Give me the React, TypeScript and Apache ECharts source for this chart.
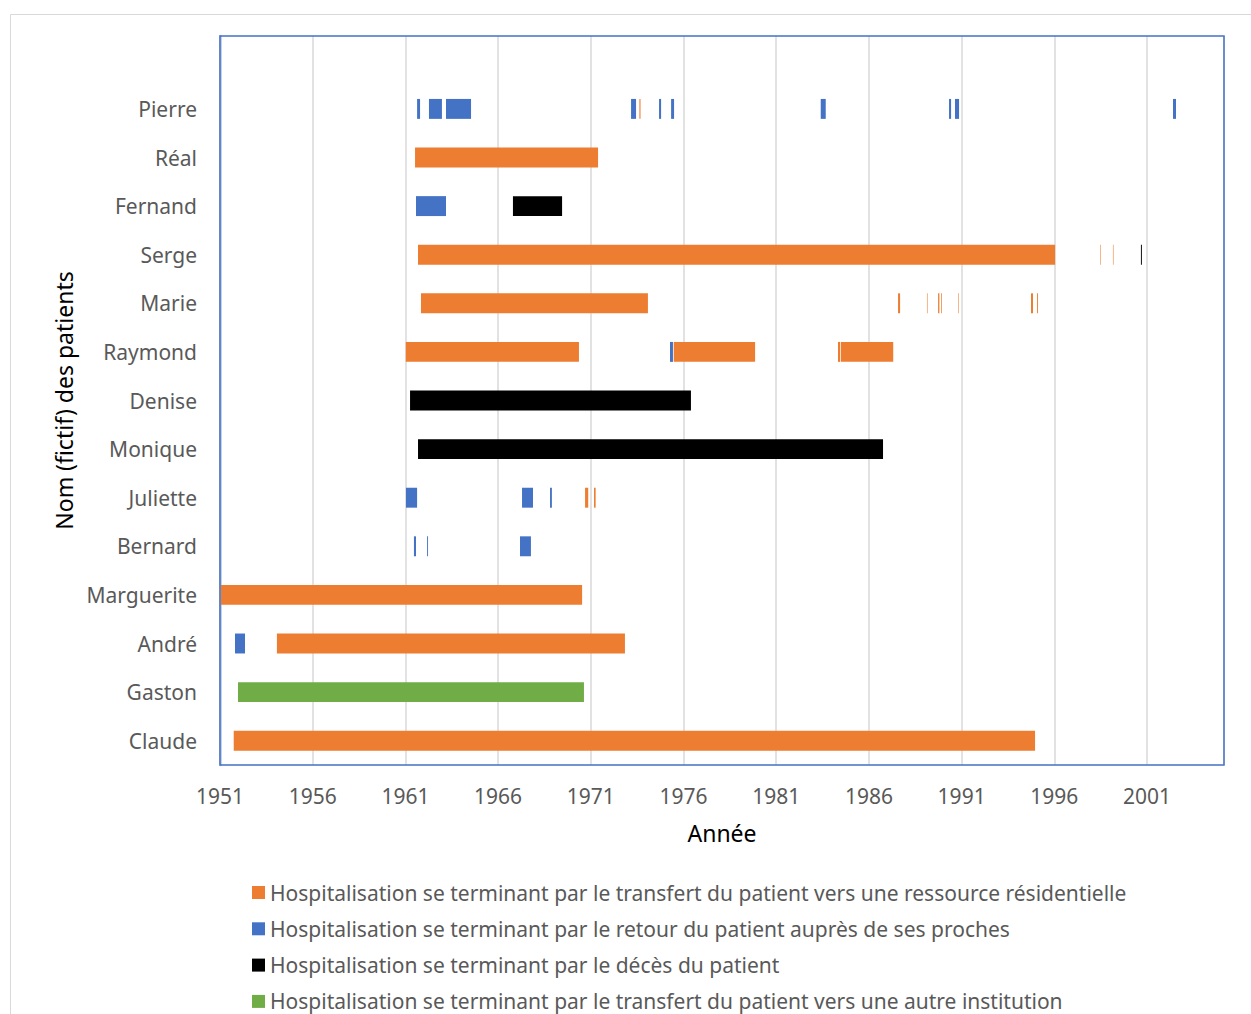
import React, { useEffect, useRef } from "react";
import * as echarts from "echarts";

const AXIS_START = 1951;
const AXIS_END = 2005.15;
const YEAR_STEP = 5;

const patients = [
  "",
  "Pierre",
  "Réal",
  "Fernand",
  "Serge",
  "Marie",
  "Raymond",
  "Denise",
  "Monique",
  "Juliette",
  "Bernard",
  "Marguerite",
  "André",
  "Gaston",
  "Claude",
];

// [patient, start year, end year]
const residentialStays: [string, number, number][] = [
  ["Pierre", 1973.62, 1973.68],
  ["Réal", 1961.52, 1971.39],
  ["Serge", 1961.68, 1996.04],
  ["Serge", 1998.47, 1998.5],
  ["Serge", 1999.16, 1999.19],
  ["Marie", 1961.84, 1974.08],
  ["Marie", 1987.57, 1987.68],
  ["Marie", 1989.13, 1989.16],
  ["Marie", 1989.73, 1989.8],
  ["Marie", 1989.89, 1989.93],
  ["Marie", 1990.81, 1990.84],
  ["Marie", 1994.74, 1994.85],
  ["Marie", 1995.07, 1995.12],
  ["Raymond", 1961.02, 1970.36],
  ["Raymond", 1975.47, 1979.86],
  ["Raymond", 1984.33, 1984.44],
  ["Raymond", 1984.48, 1987.31],
  ["Juliette", 1970.69, 1970.86],
  ["Juliette", 1971.17, 1971.26],
  ["Marguerite", 1951.05, 1970.53],
  ["André", 1954.07, 1972.84],
  ["Claude", 1951.74, 1994.96],
];

const homeStays: [string, number, number][] = [
  ["Pierre", 1961.63, 1961.79],
  ["Pierre", 1962.27, 1962.97],
  ["Pierre", 1963.19, 1964.54],
  ["Pierre", 1973.17, 1973.44],
  ["Pierre", 1974.68, 1974.79],
  ["Pierre", 1975.33, 1975.49],
  ["Pierre", 1983.4, 1983.67],
  ["Pierre", 1990.32, 1990.43],
  ["Pierre", 1990.64, 1990.86],
  ["Pierre", 2002.4, 2002.56],
  ["Fernand", 1961.57, 1963.19],
  ["Raymond", 1975.27, 1975.43],
  ["Juliette", 1961.03, 1961.63],
  ["Juliette", 1967.29, 1967.88],
  ["Juliette", 1968.8, 1968.9],
  ["Bernard", 1961.46, 1961.57],
  ["Bernard", 1962.17, 1962.22],
  ["Bernard", 1967.18, 1967.77],
  ["André", 1951.81, 1952.35],
];

const deathStays: [string, number, number][] = [
  ["Fernand", 1966.8, 1969.45],
  ["Serge", 2000.67, 2000.72],
  ["Denise", 1961.25, 1976.4],
  ["Monique", 1961.68, 1986.76],
];

const transferStays: [string, number, number][] = [
  ["Gaston", 1951.97, 1970.63],
];

const seriesNames = [
  "Hospitalisation se terminant par le transfert du patient vers une ressource résidentielle",
  "Hospitalisation se terminant par le retour du patient auprès de ses proches",
  "Hospitalisation se terminant par le décès du patient",
  "Hospitalisation se terminant par le transfert du patient vers une autre institution",
];
const seriesColors = ["#ed7d31", "#4472c4", "#000000", "#70ad47"];
const seriesData = [residentialStays, homeStays, deathStays, transferStays];

const FONT = "Noto Sans";

function makeRender(color: string) {
  return (params: any, api: any) => {
    const cat = api.value(0);
    const s = api.coord([api.value(1), cat]);
    const e = api.coord([api.value(2), cat]);
    const h = api.size([0, 1])[1] * 0.41;
    return {
      type: "rect",
      shape: { x: s[0], y: s[1] - h / 2, width: Math.max(e[0] - s[0], 0), height: h },
      style: { fill: color },
    };
  };
}

export default function App() {
  const ref = useRef<HTMLDivElement>(null);
  useEffect(() => {
    if (!ref.current) return;
    const chart = echarts.init(ref.current, null, { renderer: "svg" });
    chart.setOption({
      animation: false,
      backgroundColor: "#ffffff",
      textStyle: { fontFamily: FONT },
      graphic: [
        {
          type: "rect",
          silent: true,
          z: -10,
          shape: { x: 10.5, y: 14.5, width: 1400, height: 1200 },
          style: { fill: "none", stroke: "#d9d9d9", lineWidth: 1 },
        },
      ],
      grid: {
        left: 220,
        top: 36,
        right: 27,
        bottom: 249,
        show: true,
        borderColor: "#4472c4",
        borderWidth: 1.5,
        z: 5,
      },
      xAxis: {
        type: "value",
        min: 0,
        max: AXIS_END - AXIS_START,
        interval: YEAR_STEP,
        name: "Année",
        nameLocation: "middle",
        nameGap: 56,
        nameTextStyle: { fontSize: 23, color: "#000000", fontFamily: FONT },
        axisLine: { show: false },
        axisTick: { show: false },
        axisLabel: {
          fontSize: 21,
          color: "#595959",
          margin: 20,
          fontFamily: FONT,
          showMaxLabel: false,
          formatter: (v: number) => String(Math.round(AXIS_START + v)),
        },
        splitLine: { show: true, lineStyle: { color: "#d9d9d9", width: 1.5 } },
      },
      yAxis: {
        type: "category",
        inverse: true,
        data: patients,
        name: "Nom (fictif) des patients",
        nameLocation: "middle",
        nameGap: 145,
        nameTextStyle: { fontSize: 23, color: "#000000", fontFamily: FONT },
        axisLine: { show: true, lineStyle: { color: "#b4c2dc", width: 2.5 } },
        axisTick: { show: false },
        axisLabel: { fontSize: 21, color: "#595959", margin: 23, fontFamily: FONT },
        splitLine: { show: false },
      },
      legend: {
        orient: "vertical",
        left: 252,
        top: 882,
        height: 140,
        padding: 0,
        itemWidth: 13,
        itemHeight: 13,
        itemGap: 15.3,
        icon: "rect",
        data: seriesNames,
        textStyle: { fontSize: 21, color: "#595959", fontFamily: FONT, lineHeight: 21 },
      },
      series: seriesData.map((items, i) => ({
        type: "custom",
        name: seriesNames[i],
        itemStyle: { color: seriesColors[i] },
        renderItem: makeRender(seriesColors[i]),
        encode: { x: [1, 2], y: 0 },
        clip: true,
        data: items.map(([p, s, e]) => [patients.indexOf(p), s - AXIS_START, e - AXIS_START]),
      })),
    });
    return () => chart.dispose();
  }, []);
  return (
    <div
      ref={ref}
      style={{ position: "fixed", left: 0, top: 0, width: 1251, height: 1014, background: "#fff" }}
    />
  );
}
